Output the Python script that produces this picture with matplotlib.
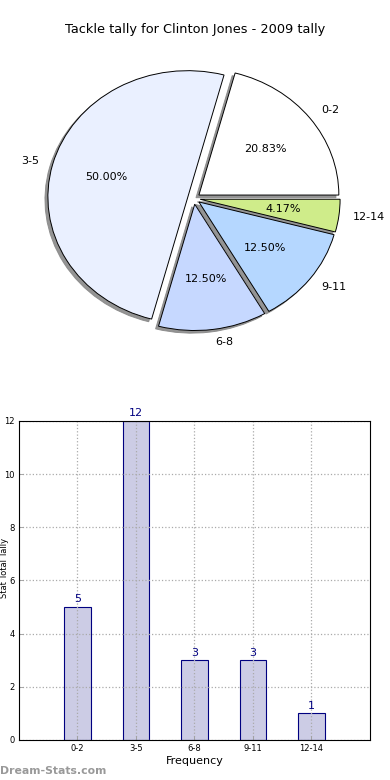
import matplotlib
matplotlib.use("Agg")
import matplotlib.pyplot as plt
import numpy as np

categories = ["0-2", "3-5", "6-8", "9-11", "12-14"]
counts = [5, 12, 3, 3, 1]
pie_colors = ["#FFFFFF", "#EAF0FF", "#C6D8FF", "#B5D7FF", "#CFEC8A"]
yticks = [0, 2, 4, 6, 8, 10, 12]

fig = plt.figure(figsize=(3.9, 7.8), dpi=100)

# Pie
axp = fig.add_axes([0.0487, 0.543, 0.897, 0.405])
wedges, texts, autotexts = axp.pie(
    counts, labels=categories, colors=pie_colors, explode=[0.045] * 5,
    autopct="%1.2f%%", shadow=dict(ox=-0.015, oy=-0.015, color="#888888", alpha=0.9),
    startangle=0, counterclock=True,
    wedgeprops=dict(edgecolor="black", linewidth=0.7),
    textprops=dict(fontsize=8), labeldistance=1.1, pctdistance=0.6)
axp.set_aspect("auto")
axp.set_xlim(-1.25, 1.25)
axp.set_ylim(-1.25, 1.25)
fig.text(0.5, 0.962, "Tackle tally for Clinton Jones - 2009 tally",
         ha="center", va="center", fontsize=9.3)

# Bars
axb = fig.add_axes([0.0487, 0.0513, 0.9, 0.409])
x = np.arange(len(categories))
axb.bar(x, counts, width=0.45, color="#CCCCE5", edgecolor="#000080",
        linewidth=0.8, zorder=2)
for xi, v in zip(x, counts):
    axb.text(xi, v + 0.1, str(v), ha="center", va="bottom",
             color="#000080", fontsize=8)
axb.set_xlim(-1, 5)
axb.set_ylim(0, 12)
axb.set_xticks(x)
axb.set_xticklabels(categories, fontsize=6)
axb.set_yticks(yticks)
axb.set_yticklabels([str(t) for t in yticks], fontsize=6)
axb.tick_params(direction="in", length=3, width=0.6, color="#999999", pad=3)
axb.grid(True, linestyle=":", color="#AAAAAA", linewidth=0.9, zorder=3)
axb.set_axisbelow(False)
axb.set_xlabel("Frequency", fontsize=8, labelpad=2)
for s in axb.spines.values():
    s.set_linewidth(0.8)
    s.set_zorder(5)

fig.text(0.011, 0.272, "Stat Total Tally", rotation=90, ha="center",
         va="center", fontsize=6)
fig.text(0.0, 0.012, "Dream-Stats.com", ha="left", va="center",
         fontsize=7.8, color="#999999", fontweight="bold")

fig.savefig("out.png", dpi=100)
